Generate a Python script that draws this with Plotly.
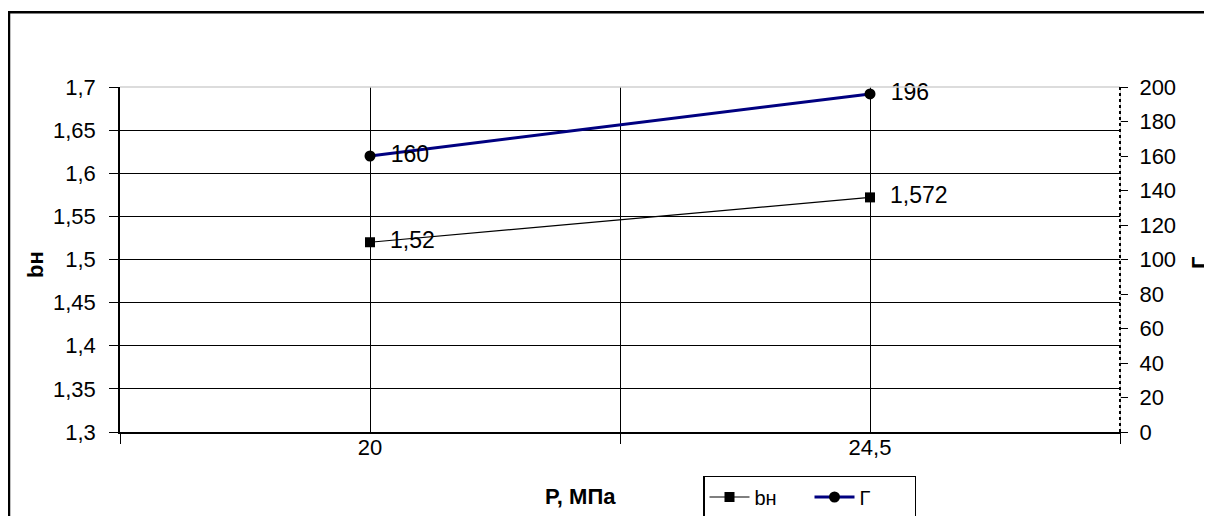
import plotly.graph_objects as go

categories = ["20", "24,5"]
bn_values = [1.52, 1.572]
g_values = [160, 196]
left_ticks = [1.3, 1.35, 1.4, 1.45, 1.5, 1.55, 1.6, 1.65, 1.7]
left_ticktext = ["1,3", "1,35", "1,4", "1,45", "1,5", "1,55", "1,6", "1,65", "1,7"]
right_ticks = [0, 20, 40, 60, 80, 100, 120, 140, 160, 180, 200]

xpos = [2 * i + 1 for i in range(len(categories))]
boundaries = [2 * i for i in range(len(categories) + 1)]
mid = [0.5 * (a + b) for a, b in zip(xpos[:-1], xpos[1:])]

FONT = "Liberation Sans, Arial, sans-serif"

def fmt(v):
    return "  " + str(v).replace(".", ",")

fig = go.Figure()
fig.add_trace(go.Scatter(
    x=xpos, y=bn_values, name="bн", mode="lines+markers+text",
    line=dict(color="black", width=1.2),
    marker=dict(symbol="square", size=10, color="black"),
    text=[fmt(v) for v in bn_values], textposition="middle right",
    textfont=dict(size=23, color="black", family=FONT),
    cliponaxis=False,
))
fig.add_trace(go.Scatter(
    x=xpos, y=g_values, name="Г", mode="lines+markers+text", yaxis="y2",
    line=dict(color="#000080", width=3),
    marker=dict(symbol="circle", size=11, color="black"),
    text=[fmt(v) for v in g_values], textposition="middle right",
    textfont=dict(size=23, color="black", family=FONT),
    cliponaxis=False,
))

fig.update_layout(
    width=1212, height=600,
    margin=dict(l=112, r=100, t=79, b=176, autoexpand=False),
    paper_bgcolor="white", plot_bgcolor="white",
    font=dict(family=FONT, size=22, color="black"),
    showlegend=True,
    legend=dict(orientation="h", x=0.583, y=-0.1275, xanchor="left", yanchor="top",
                bordercolor="black", borderwidth=1.5, bgcolor="white",
                font=dict(size=20, family=FONT), entrywidth=50, entrywidthmode="pixels",
                itemwidth=40, tracegroupgap=0),
    xaxis=dict(
        range=[boundaries[0], boundaries[-1]],
        tickmode="array", tickvals=xpos, ticktext=categories, ticks="",
        showgrid=True, gridcolor="black", gridwidth=1,
        showline=True, linecolor="black", linewidth=1.5,
        zeroline=False, tickfont=dict(size=22), automargin=False,
        ticklabelstandoff=-5,
        minor=dict(tickmode="array", tickvals=boundaries + mid, ticks="outside",
                   ticklen=10, tickcolor="black", tickwidth=1.2,
                   showgrid=True, gridcolor="black", gridwidth=1),
        fixedrange=True,
    ),
    yaxis=dict(
        range=[1.3, 1.7], tickmode="array", tickvals=left_ticks, ticktext=left_ticktext,
        ticks="outside", ticklen=9, tickcolor="black", tickwidth=1.2,
        showgrid=True, gridcolor="black", gridwidth=1,
        showline=True, linecolor="black", linewidth=1.5, zeroline=False,
        tickfont=dict(size=22), automargin=False, ticklabelstandoff=9,
    ),
    yaxis2=dict(
        range=[0, 200], tickmode="array", tickvals=right_ticks,
        overlaying="y", side="right", anchor="x",
        ticks="outside", ticklen=7, tickcolor="black", tickwidth=1.2,
        showgrid=False, showline=True, linecolor="#c8c8c8", linewidth=1,
        zeroline=False, tickfont=dict(size=22), automargin=False,
        ticklabelstandoff=7,
    ),
    annotations=[
        dict(text="<b>P, МПа</b>", xref="paper", yref="paper", x=0.46, y=-0.188,
             showarrow=False, font=dict(size=22), xanchor="center", yanchor="middle"),
        dict(text="<b>bн</b>", xref="paper", yref="paper", x=-0.085, y=0.484,
             showarrow=False, font=dict(size=22), textangle=-90,
             xanchor="center", yanchor="middle"),
        dict(text="<b>Г</b>", xref="paper", yref="paper", x=1.08, y=0.49,
             showarrow=False, font=dict(size=22), textangle=-90,
             xanchor="center", yanchor="middle"),
    ],
    shapes=[
        dict(type="line", xref="paper", yref="paper", x0=0, x1=1, y0=1, y1=1,
             line=dict(color="#d0d0d0", width=1.5)),
        dict(type="line", xref="paper", yref="paper", x0=1, x1=1, y0=0, y1=1,
             line=dict(color="black", width=2, dash="dot")),
        dict(type="rect", xref="paper", yref="paper", x0=-0.111, x1=1.2,
             y0=-0.4, y1=1.217, line=dict(color="black", width=2.5),
             fillcolor="rgba(0,0,0,0)", layer="above"),
    ],
)

fig.write_html("out.html")
